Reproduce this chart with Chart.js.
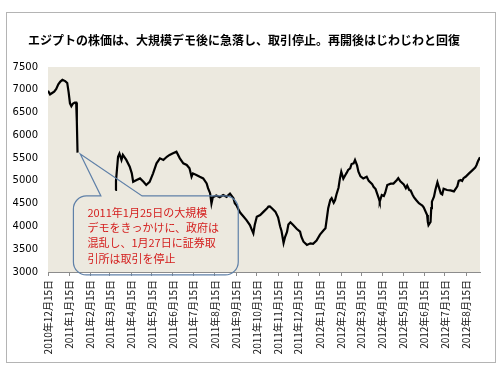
<!DOCTYPE html>
<html>
<head>
<meta charset="utf-8">
<script src="https://cdn.jsdelivr.net/npm/chart.js@4.4.0/dist/chart.umd.min.js"></script>
<style>
  html, body { margin: 0; padding: 0; background: #fff; }
</style>
</head>
<body>
<canvas id="chart" width="500" height="372"></canvas>
<script>
const startDate = '2010-12-15';
const endDate = '2012-09-04';

const tickDates = [
  '2010-12-15', '2011-01-15', '2011-02-15', '2011-03-15', '2011-04-15', '2011-05-15', '2011-06-15',
  '2011-07-15', '2011-08-15', '2011-09-15', '2011-10-15', '2011-11-15', '2011-12-15', '2012-01-15',
  '2012-02-15', '2012-03-15', '2012-04-15', '2012-05-15', '2012-06-15', '2012-07-15', '2012-08-15'
];
const tickLabels = [
  '2010年12月15日', '2011年1月15日', '2011年2月15日', '2011年3月15日', '2011年4月15日', '2011年5月15日',
  '2011年6月15日', '2011年7月15日', '2011年8月15日', '2011年9月15日', '2011年10月15日', '2011年11月15日',
  '2011年12月15日', '2012年1月15日', '2012年2月15日', '2012年3月15日', '2012年4月15日', '2012年5月15日',
  '2012年6月15日', '2012年7月15日', '2012年8月15日'
];

// trading closed from late Jan to late Mar 2011 -> null breaks the line
const dates = [
  '2010-12-15', '2010-12-18', '2010-12-21', '2010-12-24', '2010-12-27', '2010-12-30', '2011-01-02',
  '2011-01-05', '2011-01-09', '2011-01-12', '2011-01-14', '2011-01-16', '2011-01-18', '2011-01-20',
  '2011-01-23', '2011-01-25', '2011-01-26', '2011-01-27',
  '2011-02-20',
  '2011-03-23', '2011-03-24', '2011-03-27', '2011-03-29', '2011-04-01', '2011-04-03', '2011-04-08',
  '2011-04-13', '2011-04-16', '2011-04-18', '2011-04-23', '2011-04-28', '2011-05-03', '2011-05-07',
  '2011-05-12', '2011-05-17', '2011-05-22', '2011-05-27', '2011-06-01', '2011-06-06', '2011-06-10',
  '2011-06-15', '2011-06-20', '2011-06-25', '2011-06-30', '2011-07-05', '2011-07-09', '2011-07-12',
  '2011-07-14', '2011-07-19', '2011-07-24', '2011-07-29', '2011-08-03', '2011-08-05', '2011-08-08',
  '2011-08-10', '2011-08-12', '2011-08-17', '2011-08-22', '2011-08-27', '2011-09-01', '2011-09-06',
  '2011-09-11', '2011-09-13', '2011-09-16', '2011-09-18', '2011-09-21', '2011-09-25', '2011-09-30',
  '2011-10-05', '2011-10-08', '2011-10-10', '2011-10-12', '2011-10-15', '2011-10-20', '2011-10-25',
  '2011-10-30', '2011-11-01', '2011-11-03', '2011-11-06', '2011-11-11', '2011-11-15', '2011-11-18',
  '2011-11-20', '2011-11-23', '2011-11-25', '2011-11-28', '2011-11-30', '2011-12-03', '2011-12-07',
  '2011-12-12', '2011-12-17', '2011-12-19', '2011-12-22', '2011-12-27', '2012-01-01', '2012-01-05',
  '2012-01-10', '2012-01-15', '2012-01-20', '2012-01-23', '2012-01-25', '2012-01-27', '2012-01-30',
  '2012-02-01', '2012-02-04', '2012-02-06', '2012-02-08', '2012-02-11', '2012-02-13', '2012-02-15',
  '2012-02-18', '2012-02-21', '2012-02-23', '2012-02-25', '2012-02-28', '2012-03-01', '2012-03-04',
  '2012-03-06', '2012-03-09', '2012-03-11', '2012-03-14', '2012-03-18', '2012-03-23', '2012-03-26',
  '2012-03-31', '2012-04-02', '2012-04-05', '2012-04-07', '2012-04-10', '2012-04-11', '2012-04-14',
  '2012-04-17', '2012-04-19', '2012-04-22', '2012-04-27', '2012-05-01', '2012-05-06', '2012-05-08',
  '2012-05-11', '2012-05-16', '2012-05-19', '2012-05-21', '2012-05-24', '2012-05-26', '2012-05-29',
  '2012-05-31', '2012-06-03', '2012-06-07', '2012-06-10', '2012-06-12', '2012-06-14', '2012-06-19',
  '2012-06-20', '2012-06-21', '2012-06-24', '2012-06-25', '2012-06-26', '2012-06-29', '2012-07-01',
  '2012-07-04', '2012-07-06', '2012-07-09', '2012-07-11', '2012-07-13', '2012-07-18', '2012-07-23',
  '2012-07-28', '2012-08-02', '2012-08-04', '2012-08-07', '2012-08-09', '2012-08-11', '2012-08-14',
  '2012-08-19', '2012-08-23', '2012-08-28', '2012-08-30', '2012-09-01', '2012-09-04'
];
const prices = [
  6980, 6900, 6930, 6960, 7020, 7120, 7180,
  7220, 7190, 7150, 6950, 6700, 6640, 6690,
  6720, 6720, 6300, 5620,
  null,
  4800, 5000, 5530, 5600, 5460, 5570, 5460,
  5310, 5165, 4980, 5020, 5055, 4980, 4910,
  4980, 5165, 5385, 5495, 5460, 5530, 5570,
  5605, 5640, 5495, 5385, 5350, 5275, 5090,
  5165, 5130, 5090, 5055, 4945, 4840, 4730,
  4500, 4640, 4680, 4640, 4690, 4650, 4720,
  4620, 4510, 4450, 4380, 4300, 4230, 4140,
  4030, 3920, 3850, 4030, 4215, 4250, 4325,
  4400, 4435, 4440, 4400, 4325, 4200, 4000,
  3900, 3640, 3760, 3880, 4040, 4090, 4030,
  3950, 3885, 3770, 3665, 3595, 3630, 3620,
  3690, 3820, 3910, 3960, 4180, 4400, 4580,
  4620, 4520, 4580, 4700, 4850, 5050, 5200,
  5050, 5130, 5180, 5240, 5275, 5370, 5385,
  5460, 5340, 5200, 5100, 5055, 5090, 5000,
  4930, 4870, 4820, 4730, 4600, 4545, 4690,
  4670, 4740, 4910, 4940, 4940, 5020, 5060,
  4990, 4920, 4840, 4900, 4800, 4790, 4690,
  4640, 4580, 4510, 4480, 4460, 4420, 4250,
  4100, 4030, 4100, 4400, 4545, 4655, 4800,
  4970, 4870, 4720, 4700, 4830, 4800, 4790,
  4770, 4880, 5000, 5020, 5000, 5060, 5090,
  5165, 5220, 5290, 5350, 5430, 5520
];

const titleText = 'エジプトの株価は、大規模デモ後に急落し、取引停止。再開後はじわじわと回復';
const calloutLines = [
  '2011年1月25日の大規模',
  'デモをきっかけに、政府は',
  '混乱し、1月27日に証券取',
  '引所は取引を停止'
];

function dayOf(s) {
  const p = s.split('-').map(Number);
  const p0 = startDate.split('-').map(Number);
  return (Date.UTC(p[0], p[1] - 1, p[2]) - Date.UTC(p0[0], p0[1] - 1, p0[2])) / 86400000;
}

const tickDays = tickDates.map(dayOf);
const points = dates.map((d, i) => ({ x: dayOf(d), y: prices[i] }));

// callout box anchored to the axes (dates / index values)
const callout = {
  tip: ['2011-01-31', 5590],
  left: '2011-01-21', right: '2011-09-18',
  top: 4670, bottom: 2935,
  baseL: '2011-03-02', baseR: '2011-05-01'
};

const framePlugin = {
  id: 'frame',
  beforeDraw(chart) {
    const ctx = chart.ctx;
    ctx.save();
    ctx.fillStyle = '#fff';
    ctx.fillRect(0, 0, chart.width, chart.height);
    ctx.strokeStyle = '#b4b4b4';
    ctx.lineWidth = 1;
    ctx.strokeRect(6.5, 12.5, 489, 350);
    const a = chart.chartArea;
    ctx.fillStyle = '#ece9df';
    ctx.fillRect(a.left, a.top, a.right - a.left, a.bottom - a.top);
    ctx.restore();
  }
};

const calloutPlugin = {
  id: 'callout',
  afterDraw(chart) {
    const xs = chart.scales.x, ys = chart.scales.y;
    const ctx = chart.ctx;
    const L = xs.getPixelForValue(dayOf(callout.left));
    const R = xs.getPixelForValue(dayOf(callout.right));
    const T = ys.getPixelForValue(callout.top);
    const B = ys.getPixelForValue(callout.bottom);
    const tx = xs.getPixelForValue(dayOf(callout.tip[0]));
    const ty = ys.getPixelForValue(callout.tip[1]);
    const b1 = xs.getPixelForValue(dayOf(callout.baseL));
    const b2 = xs.getPixelForValue(dayOf(callout.baseR));
    const r = 13;
    ctx.save();
    ctx.beginPath();
    ctx.moveTo(L + r, T);
    ctx.lineTo(b1, T);
    ctx.lineTo(tx, ty);
    ctx.lineTo(b2, T);
    ctx.lineTo(R - r, T);
    ctx.arcTo(R, T, R, T + r, r);
    ctx.lineTo(R, B - r);
    ctx.arcTo(R, B, R - r, B, r);
    ctx.lineTo(L + r, B);
    ctx.arcTo(L, B, L, B - r, r);
    ctx.lineTo(L, T + r);
    ctx.arcTo(L, T, L + r, T, r);
    ctx.closePath();
    ctx.strokeStyle = '#5f80a8';
    ctx.lineWidth = 1.2;
    ctx.stroke();
    ctx.fillStyle = '#d4201f';
    ctx.font = '11px "Noto Sans CJK JP"';
    ctx.textBaseline = 'middle';
    ctx.textAlign = 'left';
    calloutLines.forEach((line, i) => {
      ctx.fillText(line, L + 14, T + 16.5 + i * 15.3);
    });
    ctx.restore();
  }
};

new Chart(document.getElementById('chart'), {
  type: 'line',
  data: {
    datasets: [{
      data: points,
      borderColor: '#000',
      borderWidth: 2.2,
      pointRadius: 0,
      tension: 0,
      spanGaps: false
    }]
  },
  options: {
    responsive: false,
    animation: false,
    layout: { padding: { left: 8, right: 20, top: 0, bottom: 10 } },
    plugins: {
      legend: { display: false },
      tooltip: { enabled: false },
      title: {
        display: true,
        text: titleText,
        color: '#000',
        font: { family: '"Noto Sans CJK JP"', size: 12, weight: 'bold' },
        padding: { top: 33, bottom: 19.6 }
      }
    },
    scales: {
      x: {
        type: 'linear',
        min: 0,
        max: dayOf(endDate),
        afterBuildTicks(scale) {
          scale.ticks = tickDays.map(v => ({ value: v }));
        },
        afterFit(scale) { scale.height = 90; },
        ticks: {
          autoSkip: false,
          minRotation: 90,
          maxRotation: 90,
          padding: 4,
          color: '#111',
          font: { family: '"Noto Sans CJK JP"', size: 10 },
          callback(value) {
            const i = tickDays.indexOf(value);
            return i >= 0 ? tickLabels[i] : '';
          }
        },
        grid: { display: true, drawOnChartArea: false, drawTicks: true, tickLength: 4, color: '#8c8c8c' },
        border: { display: true, color: '#8c8c8c' }
      },
      y: {
        min: 3000,
        max: 7500,
        afterFit(scale) { scale.width = 40; },
        ticks: {
          stepSize: 500,
          padding: 10,
          color: '#000',
          font: { family: '"DejaVu Sans"', size: 10 },
          callback: v => String(v)
        },
        grid: { display: false, drawTicks: false },
        border: { display: false }
      }
    }
  },
  plugins: [framePlugin, calloutPlugin]
});
</script>
</body>
</html>
